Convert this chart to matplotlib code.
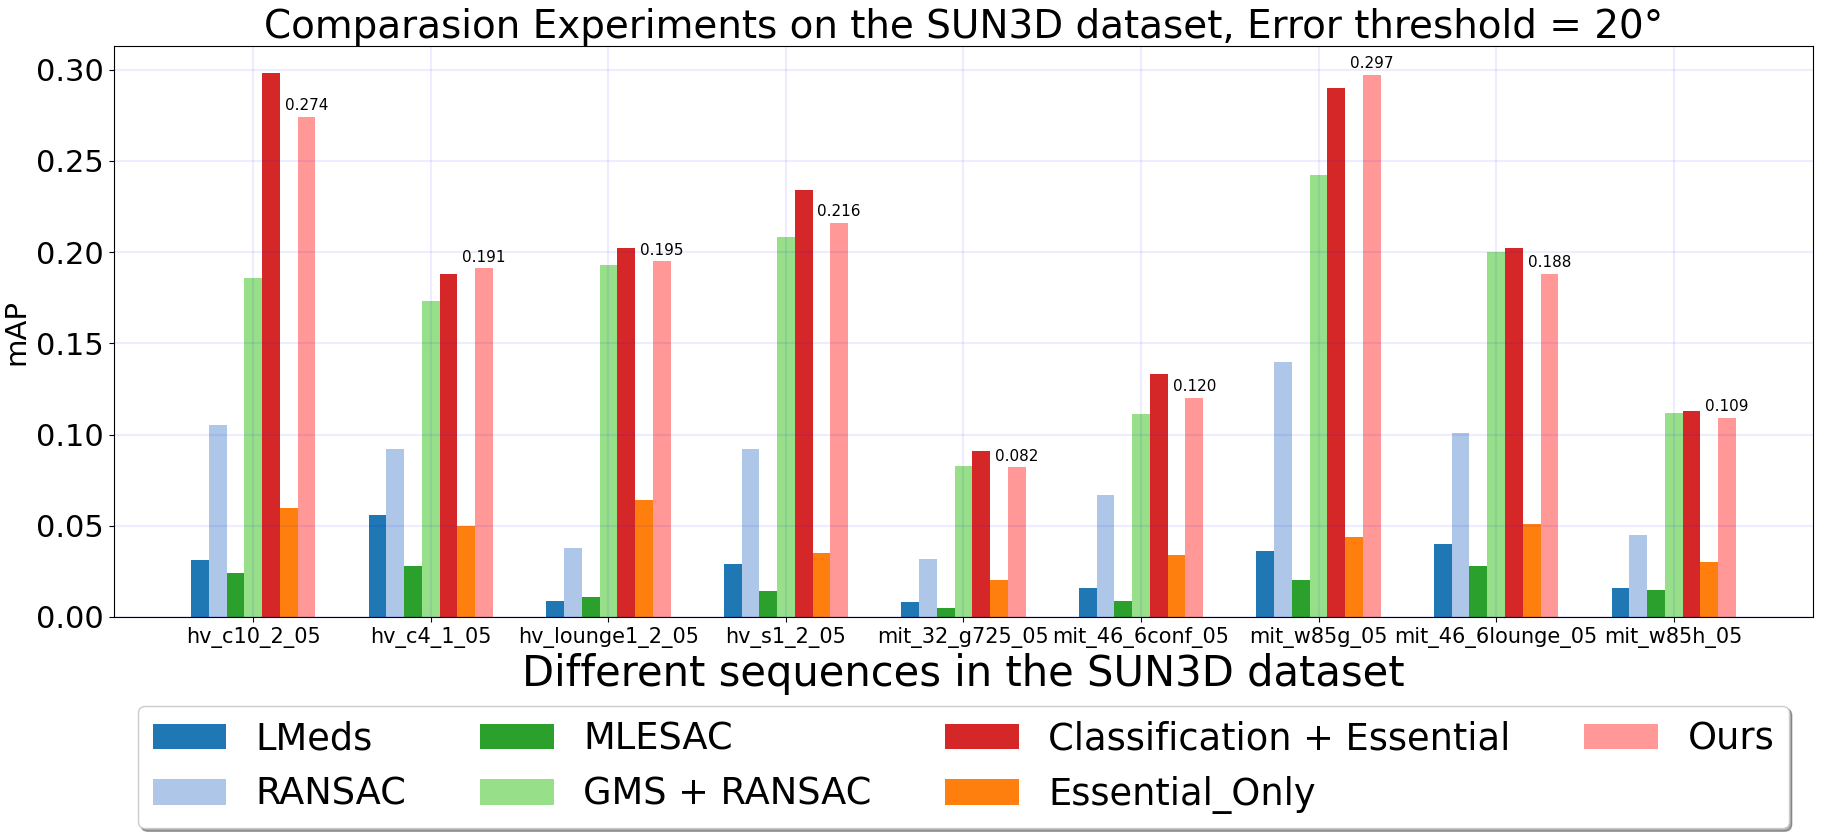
import numpy as np
import matplotlib
matplotlib.use('Agg')
import matplotlib.pyplot as plt

sequences = ['hv_c10_2_05', 'hv_c4_1_05', 'hv_lounge1_2_05', 'hv_s1_2_05', 'mit_32_g725_05',
             'mit_46_6conf_05', 'mit_w85g_05', 'mit_46_6lounge_05', 'mit_w85h_05']

lmeds = [0.031, 0.056, 0.009, 0.029, 0.008, 0.016, 0.036, 0.040, 0.016]
ransac = [0.105, 0.092, 0.038, 0.092, 0.032, 0.067, 0.140, 0.101, 0.045]
mlesac = [0.024, 0.028, 0.011, 0.014, 0.005, 0.009, 0.020, 0.028, 0.015]
gms_ransac = [0.186, 0.173, 0.193, 0.208, 0.083, 0.111, 0.242, 0.200, 0.112]
class_essential = [0.298, 0.188, 0.202, 0.234, 0.091, 0.133, 0.290, 0.202, 0.113]
essential_only = [0.060, 0.050, 0.064, 0.035, 0.020, 0.034, 0.044, 0.051, 0.030]
ours = [0.274, 0.191, 0.195, 0.216, 0.082, 0.120, 0.297, 0.188, 0.109]

methods = ['LMeds', 'RANSAC', 'MLESAC', 'GMS + RANSAC', 'Classification + Essential', 'Essential_Only', 'Ours']
series = [lmeds, ransac, mlesac, gms_ransac, class_essential, essential_only, ours]
colors = ['#1f77b4', '#aec7e8', '#2ca02c', '#98df8a', '#d62728', '#ff7f0e', '#ff9896']

fig = plt.figure(figsize=(18.26, 8.34), dpi=100)
ax = fig.add_axes([0.0624, 0.2602, 0.9305, 0.6846])

x = np.arange(len(sequences))
width = 0.1
for i, (name, vals) in enumerate(zip(methods, series)):
    bars = ax.bar(x + (i - 3) * width, vals, width, color=colors[i], label=name)
    if name == 'Ours':
        for b, v in zip(bars, vals):
            ax.text(b.get_x() + b.get_width() / 2, v + 0.002, '%.3f' % v,
                    ha='center', va='bottom', fontsize=11)

ax.set_xticks(x)
ax.set_xticklabels(sequences, fontsize=15)
ax.tick_params(axis='y', labelsize=22)
ax.set_ylabel('mAP', fontsize=21)
ax.set_xlabel('Different sequences in the SUN3D dataset', fontsize=30)
ax.set_title('Comparasion Experiments on the SUN3D dataset, Error threshold = 20°', fontsize=28)
ax.grid(True, color='blue', alpha=0.07, linewidth=1.5)

ax.legend(loc='upper center', bbox_to_anchor=(0.5, -0.123), ncol=4, fontsize=26.5,
          shadow=True, borderpad=0.4)

fig.savefig('out.png', dpi=100)
